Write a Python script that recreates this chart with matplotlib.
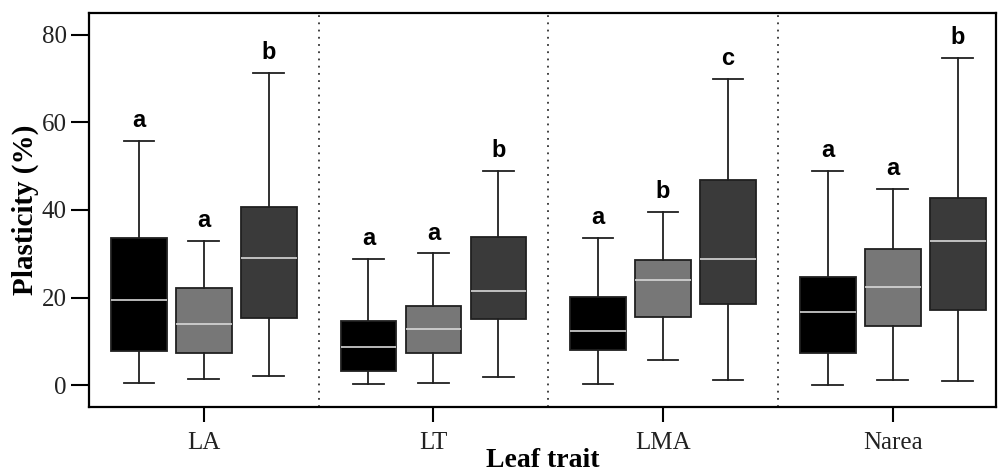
import numpy as np
import matplotlib
matplotlib.use('Agg')
import matplotlib.pyplot as plt

traits = ['LA', 'LT', 'LMA', 'Narea']
fills = ['#000000', '#777777', '#3a3a3a']

# per trait, three groups: whisker low, Q1, median, Q3, whisker high
lows = [[0.5, 1.3, 2.1], [0.2, 0.5, 1.9], [0.2, 5.8, 1.1], [0.0, 1.1, 1.0]]
q1s = [[7.9, 7.4, 15.4], [3.3, 7.4, 15.0], [8.0, 15.6, 18.5], [7.3, 13.5, 17.2]]
meds = [[19.4, 14.0, 29.0], [8.7, 12.8, 21.6], [12.4, 24.0, 28.9], [16.7, 22.3, 32.9]]
q3s = [[33.6, 22.1, 40.6], [14.6, 18.1, 33.8], [20.2, 28.5, 46.8], [24.8, 31.1, 42.8]]
highs = [[55.8, 33.0, 71.3], [28.8, 30.1, 49.0], [33.6, 39.6, 70.0], [48.9, 44.9, 74.7]]
letters = [['a', 'a', 'b'], ['a', 'a', 'b'], ['a', 'b', 'c'], ['a', 'a', 'b']]

offset = 0.283
width = 0.243

fig = plt.figure(figsize=(9.98, 4.74), dpi=100)
ax = fig.add_axes([0.0892, 0.1414, 0.9088, 0.8312])

for i in range(len(traits)):
    for j in range(3):
        x = i + (j - 1) * offset
        st = dict(whislo=lows[i][j], q1=q1s[i][j], med=meds[i][j],
                  q3=q3s[i][j], whishi=highs[i][j], fliers=[])
        ax.bxp([st], positions=[x], widths=width, patch_artist=True,
               showfliers=False,
               boxprops=dict(facecolor=fills[j], edgecolor='#202020', linewidth=1.3),
               medianprops=dict(color='#d8d8d8', linewidth=1.2),
               whiskerprops=dict(color='#202020', linewidth=1.3),
               capprops=dict(color='#202020', linewidth=1.3),
               capwidths=width * 0.55)
        ax.text(x, highs[i][j] + 2.0, letters[i][j], ha='center', va='bottom',
                fontsize=17, fontweight='bold', family='Liberation Sans')

for k in range(len(traits) - 1):
    ax.axvline(k + 0.5, color='#333333', linestyle=(0, (1, 3)), linewidth=1.3)

ax.set_xlim(-0.5, 3.45)
ax.set_ylim(-5, 85)
ax.set_xticks(range(len(traits)))
ax.set_xticklabels(traits)
ax.set_yticks([0, 20, 40, 60, 80])

for lab in ax.get_xticklabels() + ax.get_yticklabels():
    lab.set_family('Liberation Serif')
    lab.set_fontsize(18)
    lab.set_color('#222222')

ax.tick_params(axis='y', length=13, width=1.5, pad=3)
ax.tick_params(axis='x', length=11, width=1.5, pad=7)
for s in ax.spines.values():
    s.set_linewidth(1.6)

ax.set_ylabel('Plasticity (%)', family='Liberation Serif', fontsize=21,
              fontweight='bold', labelpad=2)
ax.set_xlabel('Leaf trait', family='Liberation Serif', fontsize=20,
              fontweight='bold', labelpad=-4)

fig.savefig('out.png', dpi=100)
